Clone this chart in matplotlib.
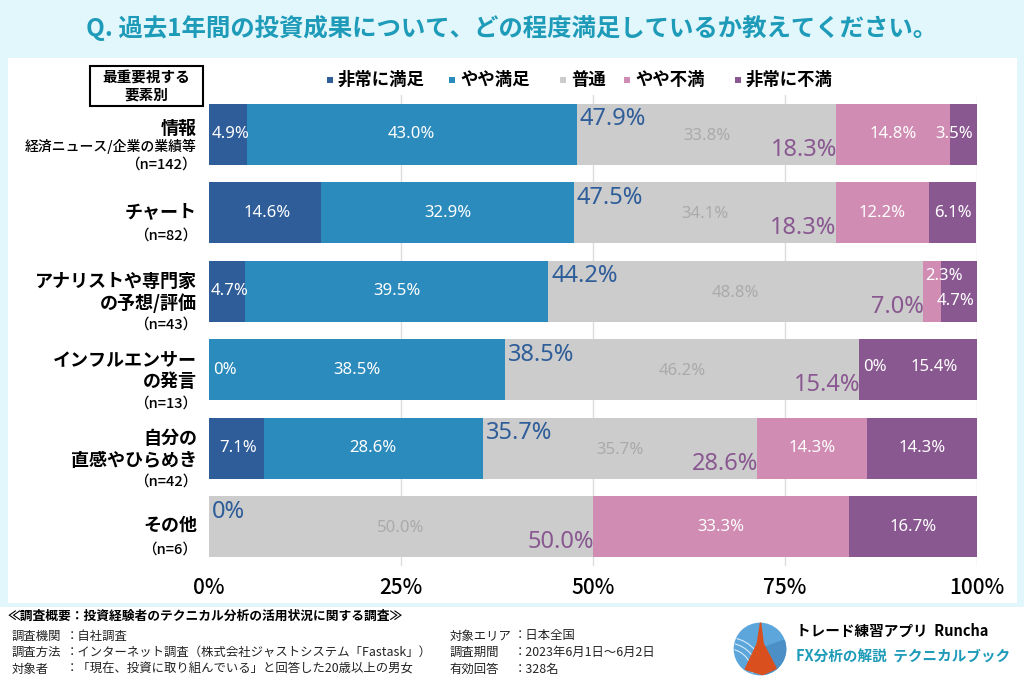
import numpy as np
import matplotlib.pyplot as plt
from matplotlib.patches import Rectangle, Circle, Polygon, Arc, Wedge
from matplotlib.transforms import blended_transform_factory

plt.rcParams['font.family'] = ['Noto Sans CJK JP', 'DejaVu Sans']
NUM = ['Noto Sans', 'DejaVu Sans']

# data
cat_lines = [["情報", "経済ニュース/企業の業績等"],
             ["チャート"],
             ["アナリストや専門家", "の予想/評価"],
             ["インフルエンサー", "の発言"],
             ["自分の", "直感やひらめき"],
             ["その他"]]
n_values = [142, 82, 43, 13, 42, 6]
series = ["非常に満足", "やや満足", "普通", "やや不満", "非常に不満"]
very_sat = [4.9, 14.6, 4.7, 0, 7.1, 0]
some_sat = [43.0, 32.9, 39.5, 38.5, 28.6, 0]
neutral = [33.8, 34.1, 48.8, 46.2, 35.7, 50.0]
some_dis = [14.8, 12.2, 2.3, 0, 14.3, 33.3]
very_dis = [3.5, 6.1, 4.7, 15.4, 14.3, 16.7]
sat_total = [47.9, 47.5, 44.2, 38.5, 35.7, 0]
dis_total = [18.3, 18.3, 7.0, 15.4, 28.6, 50.0]
xticks = [0, 25, 50, 75, 100]

colors = ["#2e5d99", "#2b8bbd", "#cccccc", "#d08cb2", "#8a5891"]
blue_txt = "#2e5d99"
purple_txt = "#8a5891"
cyan = "#1e9bb8"
bg = "#e1f7fc"

W, H = 1024, 683
fig = plt.figure(figsize=(W / 100, H / 100), dpi=100)
fig.patch.set_facecolor(bg)

def fx(x):
    return x / W

def fy(y):
    return 1 - y / H

# white panels
fig.patches.append(Rectangle((fx(8), fy(603)), fx(1017) - fx(8), fy(58) - fy(603),
                             transform=fig.transFigure, facecolor="white", edgecolor="none", zorder=-2))
fig.patches.append(Rectangle((0, 0), 1, fy(607), transform=fig.transFigure,
                             facecolor="white", edgecolor="none", zorder=-2))

fig.text(0.5, fy(28), "Q. 過去1年間の投資成果について、どの程度満足しているか教えてください。",
         ha="center", va="center", fontsize=17.6, fontweight="bold", color=cyan)

ax = fig.add_axes([fx(209), fy(566), fx(977) - fx(209), fy(95) - fy(566)])
ax.set_facecolor("none")
y = np.arange(len(n_values))
data = [very_sat, some_sat, neutral, some_dis, very_dis]
left = np.zeros(len(y))
h = 0.777
for vals, c in zip(data, colors):
    ax.barh(y, vals, left=left, height=h, color=c, edgecolor="none", zorder=3)
    left = left + np.array(vals)

ax.set_xlim(0, 100)
ax.set_ylim(5.5, -0.5)
for s in ax.spines.values():
    s.set_visible(False)
ax.set_yticks([])
ax.set_xticks(xticks)
ax.set_xticklabels([f"{t}%" for t in xticks], fontsize=15, fontweight="medium")
ax.tick_params(axis="x", length=0, pad=8)
for t in xticks[1:]:
    ax.axvline(t, color="#dddddd", lw=1, zorder=1)

lab_fs = 12
big_fs = 17

def lab(xx, yy, s, ha="center", color="white"):
    ax.text(xx, yy, s, ha=ha, va="center", color=color, fontsize=lab_fs, family=NUM, zorder=5)

for i in range(len(y)):
    vs, ss, ne, sd, vd = very_sat[i], some_sat[i], neutral[i], some_dis[i], very_dis[i]
    # very satisfied
    if vs > 0:
        lab(vs / 2 + 0.3, i, f"{vs}%")
    elif ss > 0:
        lab(0.6, i, "0%", ha="left")
    if ss > 0:
        lab(vs + ss / 2, i, f"{ss}%")
    x0 = vs + ss
    lab(x0 + ne / 2, i + 0.02, f"{ne}%", color="#aaaaaa")
    x1 = x0 + ne
    # somewhat dissatisfied / very dissatisfied
    if sd == 0:
        lab(x1 + 0.5, i - 0.03, "0%", ha="left")
        lab(x1 + vd / 2 + 2, i - 0.03, f"{vd}%")
    elif sd < 5:
        lab(x1 + 0.3, i - 0.2, f"{sd}%", ha="left")
        lab(99.7, i + 0.12, f"{vd}%", ha="right")
    else:
        lab(x1 + sd / 2, i, f"{sd}%")
        if vd < 5:
            lab(99.5, i, f"{vd}%", ha="right")
        else:
            lab(x1 + sd + vd / 2, i, f"{vd}%")
    # totals
    st = sat_total[i]
    ax.text(x0 + 0.4, i - 0.19, f"{st}%" if st else "0%", ha="left", va="center",
            color=blue_txt, fontsize=big_fs, family=NUM, fontweight="semibold", zorder=6)
    ax.text(x1 + 0.1, i + 0.2, f"{dis_total[i]}%", ha="right", va="center",
            color=purple_txt, fontsize=big_fs, family=NUM, fontweight="semibold", zorder=6)

# category labels
tr = blended_transform_factory(ax.transAxes, ax.transData)
xl = -12 / 768
for i, lines in enumerate(cat_lines):
    if len(lines) == 2:
        ys = [-0.13, 0.15, 0.43]
    else:
        ys = [-0.02, 0.29]
    for k, line in enumerate(lines):
        if i == 0 and k == 1:
            ax.text(xl, i + 0.16, line, transform=tr, ha="right", va="center", fontsize=10, fontweight="medium")
            continue
        yy = ys[k] if not (i == 0 and k == 0) else -0.08
        ax.text(xl, i + yy, line, transform=tr, ha="right", va="center", fontsize=13, fontweight="bold")
    yn = ys[-1] if i != 0 else 0.39
    ax.text(xl, i + yn, f"（n={n_values[i]}）", transform=tr, ha="right", va="center",
            fontsize=10.5, fontweight="medium")

# header box
fig.patches.append(Rectangle((fx(90), fy(106)), fx(203) - fx(90), fy(66) - fy(106),
                             transform=fig.transFigure, facecolor="white", edgecolor="black", lw=1.5, zorder=2))
fig.text(fx(146.5), fy(86), "最重要視する\n要素別", ha="center", va="center", fontsize=10.5,
         fontweight="bold", linespacing=1.05, zorder=3)

# legend
leg_x = [330, 452, 563, 627, 738]
for lx, name, c in zip(leg_x, series, colors):
    fig.patches.append(Rectangle((fx(lx - 3), fy(83)), fx(6), 6 / H, transform=fig.transFigure,
                                 facecolor=c, edgecolor="none"))
    fig.text(fx(lx + 8), fy(80), name, ha="left", va="center", fontsize=12.5, fontweight="bold")

# footer
fig.text(fx(8), fy(616), "≪調査概要：投資経験者のテクニカル分析の活用状況に関する調査≫",
         ha="left", va="center", fontsize=9.2, fontweight="bold")
foot_left = [("調査機関", "：自社調査"),
             ("調査方法", "：インターネット調査（株式会社ジャストシステム「Fastask」）"),
             ("対象者", "：「現在、投資に取り組んでいる」と回答した20歳以上の男女")]
foot_right = [("対象エリア", "：日本全国"),
              ("調査期間", "：2023年6月1日～6月2日"),
              ("有効回答", "：328名")]
for k, ((a, b), (c, d)) in enumerate(zip(foot_left, foot_right)):
    yy = fy(636 + k * 16.5)
    fig.text(fx(12), yy, a, ha="left", va="center", fontsize=8.9, color="#222222")
    fig.text(fx(66), yy, b, ha="left", va="center", fontsize=8.9, color="#222222")
    fig.text(fx(450), yy, c, ha="left", va="center", fontsize=8.9, color="#222222")
    fig.text(fx(514), yy, d, ha="left", va="center", fontsize=8.9, color="#222222")

# logo
lax = fig.add_axes([fx(733), fy(676), fx(54), 54 / H])
lax.set_xlim(-1, 1)
lax.set_ylim(-1, 1)
lax.set_aspect("equal")
lax.axis("off")
disc = Circle((0, 0), 0.95, color="#5ca6dc")
lax.add_patch(disc)
lax.add_patch(Wedge((0, 0), 0.95, -80, 20, color="#4b8fc6"))
for r in (1.3, 1.6, 1.9):
    arc = Arc((-1.2, -0.9), r * 1.4, r * 1.4, theta1=0, theta2=80, color="#d8ecf8", lw=0.8)
    lax.add_patch(arc)
    arc.set_clip_path(disc)
lax.add_patch(Polygon([[0.02, 0.98], [0.12, 0.2], [0.6, -0.72], [0.1, -0.95], [-0.55, -0.75],
                       [-0.1, 0.2]], closed=True, color="#d9501e"))
fig.text(fx(796), fy(631), "トレード練習アプリ  Runcha", ha="left", va="center",
         fontsize=10.5, fontweight="bold")
fig.text(fx(796), fy(657), "FX分析の解説  テクニカルブック", ha="left", va="center",
         fontsize=10.5, fontweight="bold", color=cyan)

fig.savefig("out.png", dpi=100, facecolor=fig.get_facecolor())
